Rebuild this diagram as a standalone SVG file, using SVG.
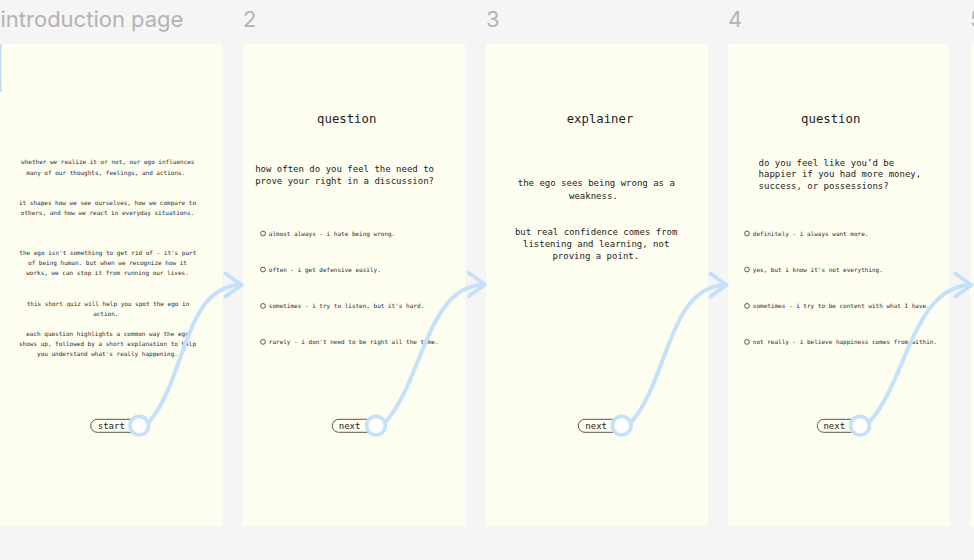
<svg xmlns="http://www.w3.org/2000/svg" width="974" height="560" viewBox="0 0 974 560">
<style>
.lbl{font-family:Inter,"Noto Sans",sans-serif;font-size:22px;fill:#b3b3b3}
.frame{fill:#fefef0}
.mono{font-family:"DejaVu Sans Mono","Liberation Mono",monospace;fill:#222}
.t12{font-size:12.3px}
.t9{font-size:9px}
.t6{font-size:6px;fill:#2a2a2a}
.c{text-anchor:middle}
.radio{fill:none;stroke:#333;stroke-width:0.8}
.pill{fill:#fefef0;stroke:#444;stroke-width:0.9}
.btxt{font-family:"DejaVu Sans Mono","Liberation Mono",monospace;font-size:9px;fill:#222;text-anchor:middle}
.conn{fill:none;stroke:#c5e0fa;stroke-width:4;stroke-linecap:round}
.knob{fill:#ffffff;stroke:#c5e0fa;stroke-width:3.6}
</style>
<defs>
<marker id="arr" markerUnits="userSpaceOnUse" markerWidth="32" markerHeight="32" viewBox="-22 -16 32 32" refX="0" refY="0" orient="auto">
<path d="M-16,-11.5 L0,0 L-16,11.5" fill="none" stroke="#c5e0fa" stroke-width="4" stroke-linecap="round" stroke-linejoin="round"/>
</marker>
</defs>
<rect x="0" y="0" width="974" height="560" fill="#f5f5f5"/>

<g id="labels">
<text class="lbl" x="0.5" y="26.5">introduction page</text>
<text class="lbl" x="243" y="26.5">2</text>
<text class="lbl" x="486" y="26.5">3</text>
<text class="lbl" x="728" y="26.5">4</text>
<text class="lbl" x="970" y="26.5">5</text>
</g>

<g id="frame-intro">
<rect class="frame" x="0" y="44" width="222.5" height="482"/>
<rect x="0" y="44" width="1.5" height="48" fill="#b9dcf6"/>
<g class="mono t6">
<text class="c" x="107.8" y="164.4">whether we realize it or not, our ego influences</text>
<text class="c" x="105.8" y="174.7">many of our thoughts, feelings, and actions.</text>
<text class="c" x="107.5" y="204.7">it shapes how we see ourselves, how we compare to</text>
<text class="c" x="107.5" y="214.7">others, and how we react in everyday situations.</text>
<text class="c" x="107.8" y="255.4">the ego isn't something to get rid of - it's part</text>
<text class="c" x="107.5" y="265.4">of being human. but when we recognize how it</text>
<text class="c" x="107.5" y="275.4">works, we can stop it from running our lives.</text>
<text class="c" x="108" y="305.7">this short quiz will help you spot the ego in</text>
<text class="c" x="105.8" y="315.7">action.</text>
<text class="c" x="107.5" y="335.7">each question highlights a common way the ego</text>
<text class="c" x="107.5" y="346">shows up, followed by a short explanation to help</text>
<text class="c" x="107.5" y="356">you understand what's really happening.</text>
</g>
<rect class="pill" x="90.7" y="419.3" width="50" height="13" rx="6.5"/>
<text class="btxt" x="111.3" y="429">start</text>
</g>

<g id="frame-2">
<rect class="frame" x="243" y="44" width="222.5" height="482"/>
<text class="mono t12 c" x="346.7" y="122.5">question</text>
<text class="mono t9" x="255.2" y="172">how often do you feel the need to</text>
<text class="mono t9" x="255.2" y="184.4">prove your right in a discussion?</text>
<g class="mono t6">
<circle class="radio" cx="263" cy="233.5" r="2.4"/>
<text x="268.8" y="235.8">almost always - i hate being wrong.</text>
<circle class="radio" cx="263" cy="269.5" r="2.4"/>
<text x="268.8" y="271.8">often - i get defensive easily.</text>
<circle class="radio" cx="263" cy="305.9" r="2.4"/>
<text x="268.8" y="308.2">sometimes - i try to listen, but it's hard.</text>
<circle class="radio" cx="263" cy="341.9" r="2.4"/>
<text x="268.8" y="344.2">rarely - i don't need to be right all the time.</text>
</g>
<rect class="pill" x="332.3" y="419.3" width="44" height="13" rx="6.5"/>
<text class="btxt" x="349.6" y="429">next</text>
</g>

<g id="frame-3">
<rect class="frame" x="486" y="44" width="222" height="482"/>
<text class="mono t12 c" x="600" y="122.5">explainer</text>
<g class="mono t9">
<text class="c" x="596.3" y="186.2">the ego sees being wrong as a</text>
<text class="c" x="593.4" y="198.5">weakness.</text>
<text class="c" x="596.2" y="234.5">but real confidence comes from</text>
<text class="c" x="596.2" y="246.8">listening and learning, not</text>
<text class="c" x="595.8" y="259.1">proving a point.</text>
</g>
<rect class="pill" x="578.3" y="419.3" width="44" height="13" rx="6.5"/>
<text class="btxt" x="596.2" y="429">next</text>
</g>

<g id="frame-4">
<rect class="frame" x="728" y="44" width="221.5" height="482"/>
<text class="mono t12 c" x="830.7" y="122.5">question</text>
<text class="mono t9" x="758.6" y="165.9">do you feel like you’d be</text>
<text class="mono t9" x="758.6" y="177.4">happier if you had more money,</text>
<text class="mono t9" x="758.6" y="188.9">success, or possessions?</text>
<g class="mono t6">
<circle class="radio" cx="747" cy="233.5" r="2.4"/>
<text x="752.8" y="235.8">definitely - i always want more.</text>
<circle class="radio" cx="747" cy="269.5" r="2.4"/>
<text x="752.8" y="271.8">yes, but i know it's not everything.</text>
<circle class="radio" cx="747" cy="305.9" r="2.4"/>
<text x="752.8" y="308.2">sometimes - i try to be content with what I have.</text>
<circle class="radio" cx="747" cy="341.9" r="2.4"/>
<text x="752.8" y="344.2">not really - i believe happiness comes from within.</text>
</g>
<rect class="pill" x="817.3" y="419.3" width="43" height="13" rx="6.5"/>
<text class="btxt" x="834.3" y="429">next</text>
</g>

<g id="frame-5">
<rect class="frame" x="970" y="44" width="4" height="482"/>
</g>

<g id="connectors">
<path class="conn" marker-end="url(#arr)" d="M148.3,422.7 C186.3,380.7 183.5,285 241.5,285"/>
<circle class="knob" cx="139.3" cy="425.7" r="9.3"/>
<path class="conn" marker-end="url(#arr)" d="M385,422.7 C423,380.7 427,284.5 485,284.5"/>
<circle class="knob" cx="376" cy="425.7" r="9.3"/>
<path class="conn" marker-end="url(#arr)" d="M630.7,422.7 C668.7,380.7 668.5,285 726.5,285"/>
<circle class="knob" cx="621.7" cy="425.7" r="9.3"/>
<path class="conn" marker-end="url(#arr)" d="M869,422.7 C907,380.7 913.5,285 971.5,285"/>
<circle class="knob" cx="860" cy="425.7" r="9.3"/>
</g>
</svg>
